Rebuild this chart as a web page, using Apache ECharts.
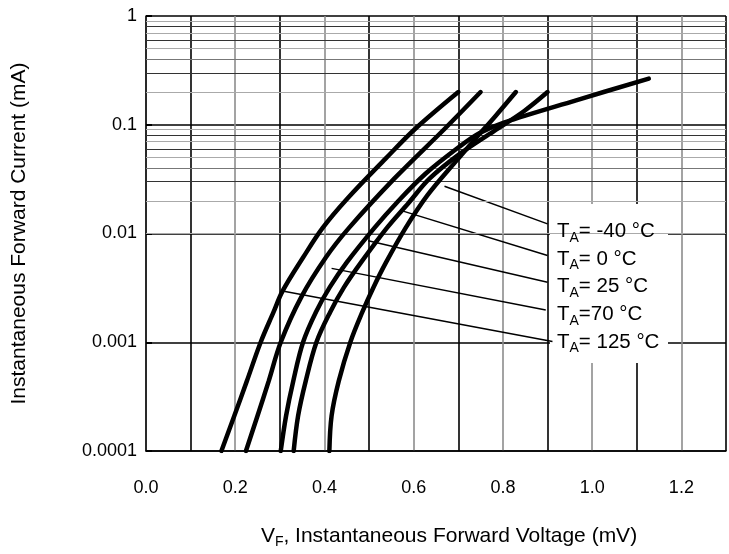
<!DOCTYPE html>
<html>
<head>
<meta charset="UTF-8">
<title>Forward characteristics</title>
<script src="https://cdn.jsdelivr.net/npm/echarts@6/dist/echarts.min.js"></script>
<style>
    html, body { margin: 0; padding: 0; background: #fff; }
    #chart { width: 729px; height: 554px; }
</style>
</head>
<body>
<div id="chart"></div>
<script>
// [VF (V), IF (mA)]
var curve125 = [[0.169, 0.0001], [0.198, 0.000211], [0.226, 0.000439], [0.257, 0.001], [0.286, 0.0019],
    [0.306, 0.00295], [0.352, 0.00601], [0.396, 0.01126], [0.452, 0.0211], [0.537, 0.0488],
    [0.603, 0.0914], [0.70, 0.2]];
var curve70 = [[0.224, 0.0001], [0.25, 0.000211], [0.275, 0.000439], [0.302, 0.001], [0.348, 0.0026],
    [0.403, 0.00601], [0.455, 0.01126], [0.557, 0.0321], [0.669, 0.0914], [0.75, 0.2]];
var curve25 = [[0.302, 0.0001], [0.314, 0.000211], [0.33, 0.000439], [0.352, 0.001], [0.381, 0.0019],
    [0.412, 0.00321], [0.45, 0.00542], [0.512, 0.01126], [0.561, 0.019], [0.627, 0.0356],
    [0.705, 0.064], [0.748, 0.084], [0.802, 0.1047], [0.964, 0.1677], [1.127, 0.2658]];
var curve0 = [[0.331, 0.0001], [0.341, 0.000211], [0.358, 0.000439], [0.382, 0.001], [0.413, 0.0019],
    [0.444, 0.00321], [0.482, 0.00542], [0.54, 0.01126], [0.588, 0.019], [0.636, 0.0321],
    [0.704, 0.0542], [0.78, 0.0876], [0.847, 0.1332], [0.90, 0.2]];
var curveM40 = [[0.411, 0.0001], [0.416, 0.000211], [0.432, 0.000439], [0.458, 0.001], [0.485, 0.0019],
    [0.51, 0.00321], [0.538, 0.00542], [0.582, 0.01126], [0.631, 0.0225], [0.694, 0.0458],
    [0.738, 0.0741], [0.783, 0.1199], [0.829, 0.2]];

// leader lines: [start near curve, end at the label box]
var leaders = [
    [[0.669, 0.0272], [0.90, 0.01225]],
    [[0.569, 0.0164], [0.90, 0.00627]],
    [[0.498, 0.00859], [0.90, 0.00356]],
    [[0.416, 0.00478], [0.896, 0.00198]],
    [[0.309, 0.00295], [0.911, 0.001015]]
];
var labelTemps = ['= -40 °C', '= 0 °C', '= 25 °C', '=70 °C', '= 125 °C'];

var yTicks = [0.0001, 0.001, 0.01, 0.1, 1];
var minorSteps = [2, 3, 4, 5, 6, 7, 8, 9];
var minorColors = {2: '#aaa', 3: '#333', 4: '#777', 5: '#aaa', 6: '#333', 7: '#aaa', 8: '#333', 9: '#aaa'};

var font = 'Liberation Sans, Arial, sans-serif';
var chart = echarts.init(document.getElementById('chart'));

var minorLines = [];
for (var i = 0; i < yTicks.length - 1; i++) {
    for (var j = 0; j < minorSteps.length; j++) {
        minorLines.push({
            yAxis: yTicks[i] * minorSteps[j],
            lineStyle: {color: minorColors[minorSteps[j]], width: 1, type: 'solid'}
        });
    }
}

function curveSeries(name, data) {
    return {
        name: name, type: 'line', data: data, showSymbol: false, smooth: 0.35,
        lineStyle: {color: '#000', width: 4.5, cap: 'round'}, z: 5, silent: true
    };
}

var series = [
    {
        type: 'line', data: [], silent: true,
        markLine: {silent: true, symbol: ['none', 'none'], label: {show: false}, animation: false, data: minorLines},
        z: 1
    },
    curveSeries('125', curve125),
    curveSeries('70', curve70),
    curveSeries('25', curve25),
    curveSeries('0', curve0),
    curveSeries('-40', curveM40)
];
leaders.forEach(function (l) {
    series.push({
        type: 'line', data: l, showSymbol: false, silent: true,
        lineStyle: {color: '#000', width: 1.5}, z: 4
    });
});

var graphics = [{
    type: 'rect', shape: {x: 550, y: 204, width: 118, height: 159},
    style: {fill: '#fff'}, z: 3
}];
labelTemps.forEach(function (t, k) {
    graphics.push({
        type: 'text', x: 557, y: 218 + k * 27.6, z: 6,
        style: {
            text: '{m|T}{s|A}{m|' + t + '}',
            rich: {
                m: {fontSize: 20.5, fontFamily: font, fill: '#000', lineHeight: 27},
                s: {fontSize: 14, fontFamily: font, fill: '#000', lineHeight: 14, verticalAlign: 'bottom'}
            }
        }
    });
});

var option = {
    animation: false,
    backgroundColor: '#fff',
    grid: {left: 146, right: -3, top: 16, bottom: 98},
    xAxis: {
        type: 'value', min: 0, max: 1.3, interval: 0.1,
        axisLine: {show: true, lineStyle: {color: '#000', width: 1.5}},
        axisTick: {show: false},
        axisLabel: {
            margin: 28, fontSize: 18, color: '#000', fontFamily: font,
            formatter: function (v) {
                return Math.round(v * 10) % 2 === 0 ? v.toFixed(1) : '';
            }
        },
        splitLine: {show: true, lineStyle: {color: ['#8c8c8c', '#000'], width: 1.6}},
        name: '{m|V}{s|F}{m|, Instantaneous Forward Voltage (mV)}',
        nameLocation: 'middle', nameGap: 72,
        nameTextStyle: {
            padding: [0, 0, 0, 26],
            rich: {
                m: {fontSize: 21, fontFamily: font, color: '#000', lineHeight: 26},
                s: {fontSize: 14, fontFamily: font, color: '#000', lineHeight: 14, verticalAlign: 'bottom'}
            }
        }
    },
    yAxis: {
        type: 'log', logBase: 10, min: 0.0001, max: 1,
        axisLine: {show: true, lineStyle: {color: '#000', width: 1.5}},
        axisTick: {show: true, inside: true, length: 6, lineStyle: {color: '#000', width: 2}},
        axisLabel: {
            margin: 9, fontSize: 18, color: '#000', fontFamily: font,
            formatter: function (v) { return String(parseFloat(v.toPrecision(3))); }
        },
        splitLine: {show: true, lineStyle: {color: '#000', width: 1.5}},
        name: 'Instantaneous Forward Current (mA)',
        nameLocation: 'middle', nameGap: 116,
        nameTextStyle: {fontSize: 21, fontFamily: font, color: '#000'}
    },
    graphic: graphics,
    series: series
};
chart.setOption(option);
</script>
</body>
</html>
